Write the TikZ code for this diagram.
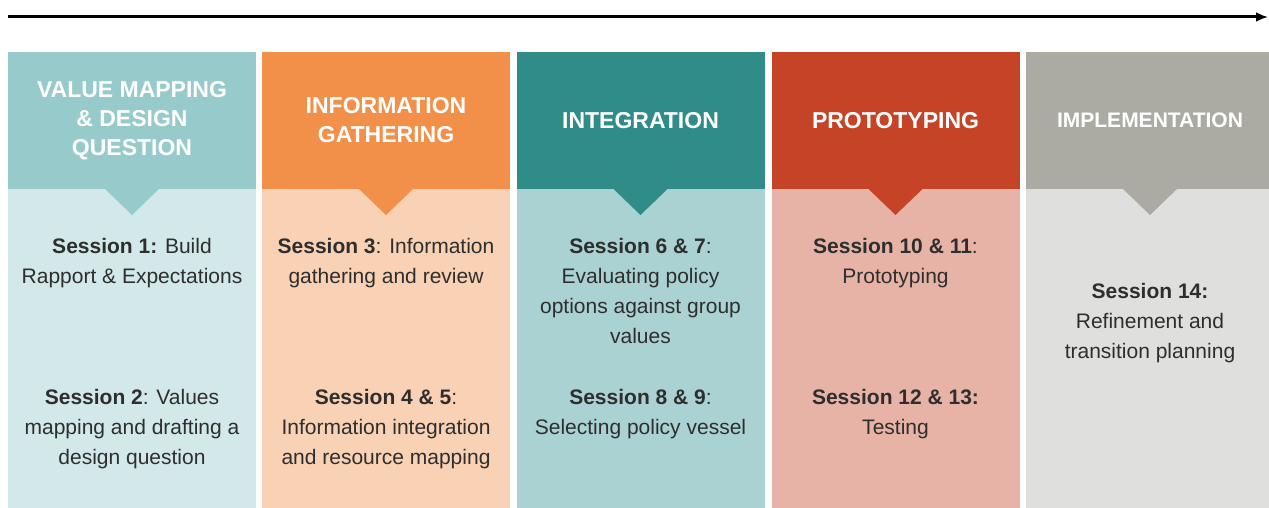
\documentclass[tikz,border=0pt]{standalone}
\usepackage{fontspec}
\setmainfont{Liberation Sans}
\usetikzlibrary{positioning,arrows.meta}

\definecolor{valtop}{HTML}{97CACB}
\definecolor{valbody}{HTML}{D3E8E9}
\definecolor{gathtop}{HTML}{F28F49}
\definecolor{gathbody}{HTML}{F9D1B4}
\definecolor{inttop}{HTML}{2F8C88}
\definecolor{intbody}{HTML}{AAD2D3}
\definecolor{prototop}{HTML}{C54427}
\definecolor{protobody}{HTML}{E6B3A6}
\definecolor{impltop}{HTML}{ABABA4}
\definecolor{implbody}{HTML}{DFDFDD}
\definecolor{ink}{HTML}{2E2E2E}

\tikzset{
	head/.style={rectangle, minimum width=124pt, minimum height=68.5pt, inner sep=0pt, outer sep=0pt, align=center, text=white, font=\fontsize{11.5}{14.5}\selectfont\bfseries},
	panel/.style={rectangle, minimum width=124pt, minimum height=160pt, inner sep=0pt, outer sep=0pt},
	note/.style={inner sep=0pt, align=center, text=ink, font=\fontsize{10.5}{15}\selectfont},
	timeline/.style={line width=1.5pt, -{Latex[length=6pt,width=5pt]}},
}

\begin{document}
\begin{tikzpicture}[x=0.5pt, y=-0.5pt]
	\useasboundingbox (0,0) rectangle (1269,508);
	\clip (0,0) rectangle (1269,508);

	\coordinate (start) at (8,17);
	\coordinate (end) at (1268,17);
	\draw[timeline] (start) -- (end);

	\node[head, fill=valtop] (h1) at (132,120.5) {VALUE MAPPING\\\& DESIGN\\QUESTION};
	\node[head, fill=gathtop] (h2) at (386,120.5) {INFORMATION\\GATHERING};
	\node[head, fill=inttop] (h3) at (640.5,120.5) {INTEGRATION};
	\node[head, fill=prototop] (h4) at (895.5,120.5) {PROTOTYPING};
	\node[head, fill=impltop, font=\fontsize{10.5}{14}\selectfont\bfseries] (h5) at (1150,120.5) {IMPLEMENTATION};

	\node[panel, fill=valbody, below=0pt of h1] (p1) {};
	\node[panel, fill=gathbody, below=0pt of h2] (p2) {};
	\node[panel, fill=intbody, below=0pt of h3] (p3) {};
	\node[panel, fill=protobody, below=0pt of h4] (p4) {};
	\node[panel, fill=implbody, below=0pt of h5] (p5) {};

	% pointers under the headers
	\fill[valtop] ([xshift=-13.5pt]h1.south) -- ([xshift=13.5pt]h1.south) -- ([yshift=-13pt]h1.south) -- cycle;
	\fill[gathtop] ([xshift=-13.5pt]h2.south) -- ([xshift=13.5pt]h2.south) -- ([yshift=-13pt]h2.south) -- cycle;
	\fill[inttop] ([xshift=-13.5pt]h3.south) -- ([xshift=13.5pt]h3.south) -- ([yshift=-13pt]h3.south) -- cycle;
	\fill[prototop] ([xshift=-13.5pt]h4.south) -- ([xshift=13.5pt]h4.south) -- ([yshift=-13pt]h4.south) -- cycle;
	\fill[impltop] ([xshift=-13.5pt]h5.south) -- ([xshift=13.5pt]h5.south) -- ([yshift=-13pt]h5.south) -- cycle;

	\node[note, below=24.5pt of h1.south] (s1) {\textbf{Session 1:} Build\\Rapport \& Expectations};
	\node[note, below=100pt of h1.south] (s2) {\textbf{Session 2}: Values\\mapping and drafting a\\design question};
	\node[note, below=24.5pt of h2.south] (s3) {\textbf{Session 3}: Information\\gathering and review};
	\node[note, below=100pt of h2.south] (s45) {\textbf{Session 4 \& 5}:\\Information integration\\and resource mapping};
	\node[note, below=24.5pt of h3.south] (s67) {\textbf{Session 6 \& 7}:\\Evaluating policy\\options against group\\values};
	\node[note, below=100pt of h3.south] (s89) {\textbf{Session 8 \& 9}:\\Selecting policy vessel};
	\node[note, below=24.5pt of h4.south] (s1011) {\textbf{Session 10 \& 11}:\\Prototyping};
	\node[note, below=100pt of h4.south] (s1213) {\textbf{Session 12 \& 13:}\\Testing};
	\node[note, below=47pt of h5.south] (s14) {\textbf{Session 14:}\\Refinement and\\transition planning};

\end{tikzpicture}
\end{document}
